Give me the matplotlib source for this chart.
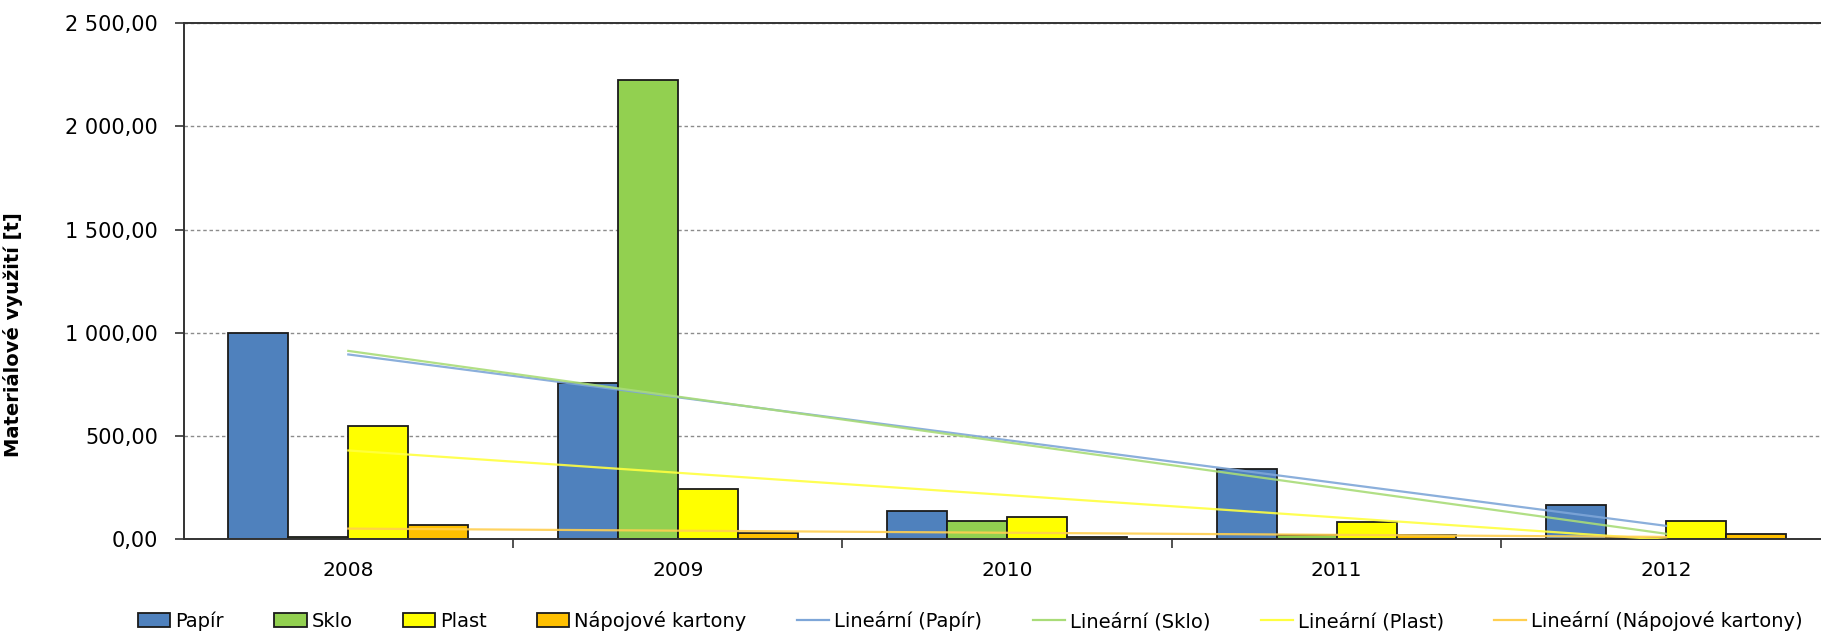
import numpy as np
import matplotlib
matplotlib.use("Agg")
import matplotlib.pyplot as plt
from matplotlib.ticker import FuncFormatter, MultipleLocator
from matplotlib.patches import Patch
from matplotlib.lines import Line2D

# Materials recovered per year [t]
years = ["2008", "2009", "2010", "2011", "2012"]
papir = [998, 755, 135, 340, 167]
sklo = [8, 2225, 87, 19, 3]
plast = [547, 243, 106, 80, 88]
napojove = [69, 29, 11, 18, 24]

series = [
    ("Papír", papir, "#4F81BD", "#7EA6D8"),
    ("Sklo", sklo, "#92D050", "#A9DC78"),
    ("Plast", plast, "#FFFF00", "#FFFF40"),
    ("Nápojové kartony", napojove, "#FFC000", "#FFCF50"),
]

plt.rcParams["font.family"] = ["DejaVu Sans"]

fig = plt.figure(figsize=(18.21, 6.35), dpi=100)
ax = fig.add_axes([0.1008, 0.1512, 0.8992, 0.8123])

x = np.arange(len(years))
w = 1 / 5.5
offsets = [-1.5, -0.5, 0.5, 1.5]

handles_bar = []
handles_line = []
for (name, vals, col, tcol), off in zip(series, offsets):
    ax.bar(x + off * w, vals, width=w, color=col, edgecolor="#1a1a1a",
           linewidth=1.3, zorder=2)
    handles_bar.append(Patch(facecolor=col, edgecolor="#1a1a1a", linewidth=1.3, label=name))

# linear trend lines ("Lineární" trendline)
for name, vals, col, tcol in series:
    k, q = np.polyfit(x, vals, 1)
    ax.plot(x, k * x + q, color=tcol, linewidth=1.6, alpha=0.9, zorder=3)
    handles_line.append(Line2D([], [], color=tcol, linewidth=1.6, label=f"Lineární ({name})"))

ax.set_xlim(-0.5, 4.47)
ax.set_ylim(0, 2500)
ax.yaxis.set_major_locator(MultipleLocator(500))


def cz_fmt(v, pos):
    s = f"{v:,.2f}"
    return s.replace(",", " ").replace(".", ",")


ax.yaxis.set_major_formatter(FuncFormatter(cz_fmt))
ax.grid(axis="y", color="#8c8c8c", linestyle=(0, (2.5, 2)), linewidth=1.0, zorder=0)
ax.set_axisbelow(True)

ax.set_xticks(x)
ax.set_xticklabels(years)
ax.set_xticks(np.arange(0.5, 4.5, 1), minor=True)
ax.tick_params(axis="x", which="major", length=0, pad=16, labelsize=14.5)
ax.tick_params(axis="x", which="minor", length=6.5, width=1.2, color="#333333")
ax.tick_params(axis="y", length=6.3, width=1.2, color="#333333", labelsize=15, pad=12)

for side in ["left", "bottom", "top"]:
    ax.spines[side].set_color("#333333")
    ax.spines[side].set_linewidth(1.4)
ax.spines["right"].set_visible(False)

ax.set_ylabel("Materiálové využití [t]", fontsize=14, fontweight="bold")
ax.yaxis.set_label_coords(-0.098, 0.397)

fig.legend(handles=handles_bar + handles_line, loc="center",
           bbox_to_anchor=(0.533, 0.022), ncol=8, frameon=False,
           fontsize=14, handlelength=1.65, handleheight=0.75,
           handletextpad=0.25, columnspacing=2.6)

fig.savefig("out.png", dpi=100)
